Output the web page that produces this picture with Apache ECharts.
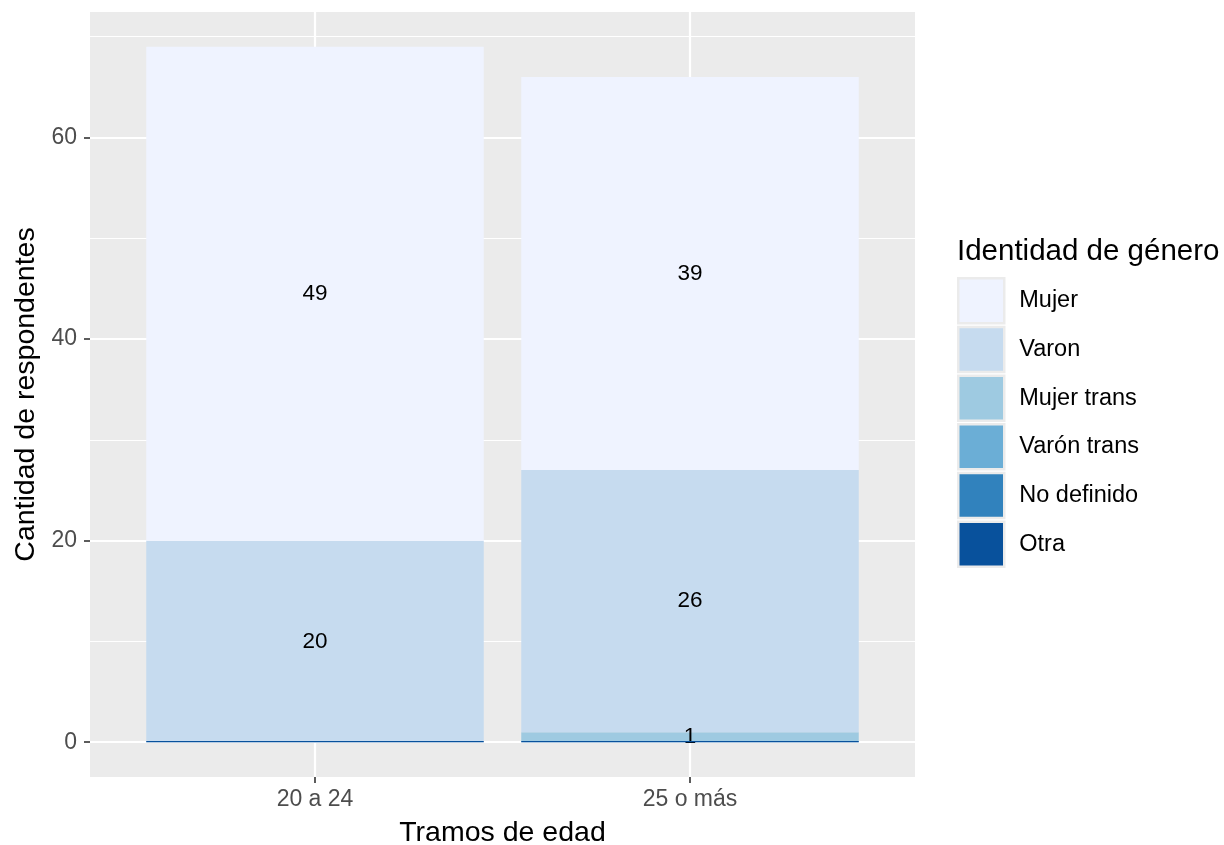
<!DOCTYPE html>
<html>
<head>
<meta charset="utf-8">
<script src="https://cdn.jsdelivr.net/npm/echarts@6/dist/echarts.min.js"></script>
<style>html,body{margin:0;padding:0;background:#fff}#c{width:1224px;height:845px}</style>
</head>
<body>
<div id="c"></div>
<script>
const categories = ['20 a 24', '25 o más'];
const legendOrder = ['Mujer', 'Varon', 'Mujer trans', 'Varón trans', 'No definido', 'Otra'];
const Mujer = [49, 39];
const Varon = [20, 26];
const MujerTrans = [0, 1];
const VaronTrans = [0, 0];
const NoDefinido = [0, 0];
const Otra = [0, 0];
const yMajorTicks = [0, 20, 40, 60];
const yMinorTicks = [10, 30, 50, 70];
const colors = {
  'Mujer': '#EFF3FF', 'Varon': '#C6DBEF', 'Mujer trans': '#9ECAE1',
  'Varón trans': '#6BAED6', 'No definido': '#3182BD', 'Otra': '#08519C'
};
const FONT = 'Liberation Sans, Arial, Helvetica, sans-serif';
// stacking order bottom -> top
const stackSeries = [
  ['Otra', Otra], ['No definido', NoDefinido], ['Varón trans', VaronTrans],
  ['Mujer trans', MujerTrans], ['Varon', Varon], ['Mujer', Mujer]
];
const catIdx = categories.map((c, i) => i + 1);
const Y_MIN = -3.45, Y_MAX = 72.45;

const series = stackSeries.map(([name, vals]) => ({
  name: name,
  type: 'bar',
  stack: 'total',
  xAxisIndex: 1,
  yAxisIndex: 2,
  barWidth: '90%',
  barMinHeight: name === 'Otra' ? 1.2 : 0,
  z: name === 'Otra' ? 4 : 2,
  itemStyle: { color: colors[name] },
  label: {
    show: true, position: 'inside', color: '#000', fontSize: 22.5, fontFamily: FONT,
    formatter: p => (p.value ? String(p.value) : '')
  },
  data: vals
}));

const chart = echarts.init(document.getElementById('c'));
chart.setOption({
  animation: false,
  color: stackSeries.map(s => colors[s[0]]),
  title: {
    text: 'Identidad de género', left: 952, top: 232,
    textStyle: { fontFamily: FONT, fontSize: 29.5, fontWeight: 'normal', color: '#000' }
  },
  legend: {
    data: legendOrder, orient: 'vertical', left: 957, top: 277, padding: 0,
    icon: 'rect', itemWidth: 46, itemHeight: 45, itemGap: 1.2,
    itemStyle: { borderColor: '#EBEBEB', borderWidth: 2.5 },
    textStyle: { fontFamily: FONT, fontSize: 23.5, color: '#000', padding: [0, 0, 0, 10] },
    selectedMode: false
  },
  grid: [{
    left: 90, right: 309, top: 12, bottom: 68, outerBoundsMode: 'none', containLabel: false,
    show: true, backgroundColor: '#EBEBEB', borderWidth: 0
  }, {
    left: 127.5, width: 750, top: 12, bottom: 68, outerBoundsMode: 'none', containLabel: false, show: false
  }],
  xAxis: [{
    gridIndex: 0, type: 'value', min: 0.4, max: 2.6,
    axisLine: { show: false, onZero: false },
    axisTick: { show: true, customValues: catIdx, length: 6, lineStyle: { color: '#333', width: 1.6 } },
    axisLabel: {
      customValues: catIdx, color: '#4D4D4D', fontSize: 23, fontFamily: FONT, margin: 11,
      formatter: v => categories[Math.round(v) - 1] || ''
    },
    splitLine: { show: true, lineStyle: { color: '#fff', width: 2.2 } },
    name: 'Tramos de edad', nameLocation: 'middle', nameGap: 42,
    nameTextStyle: { fontFamily: FONT, fontSize: 28.5, color: '#000' }
  }, {
    gridIndex: 1, type: 'category', data: categories, show: false
  }],
  yAxis: [{
    gridIndex: 0, type: 'value', min: Y_MIN, max: Y_MAX,
    axisLine: { show: false, onZero: false },
    axisTick: { show: true, customValues: yMajorTicks, length: 6, lineStyle: { color: '#333', width: 1.6 } },
    axisLabel: { customValues: yMajorTicks, color: '#4D4D4D', fontSize: 23, fontFamily: FONT, margin: 13 },
    splitLine: { show: true, lineStyle: { color: '#fff', width: 2.2 } },
    name: 'Cantidad de respondentes', nameLocation: 'middle', nameGap: 45,
    nameTextStyle: { fontFamily: FONT, fontSize: 28.5, color: '#000' }
  }, {
    gridIndex: 0, type: 'value', min: Y_MIN, max: Y_MAX, position: 'left',
    axisLine: { show: false, onZero: false },
    axisTick: { show: false, customValues: yMinorTicks },
    axisLabel: { show: false, customValues: yMinorTicks },
    splitLine: { show: true, lineStyle: { color: '#fff', width: 1.1 } }
  }, {
    gridIndex: 1, type: 'value', min: Y_MIN, max: Y_MAX, show: false,
    splitLine: { show: false }
  }],
  series: series
});
</script>
</body>
</html>
